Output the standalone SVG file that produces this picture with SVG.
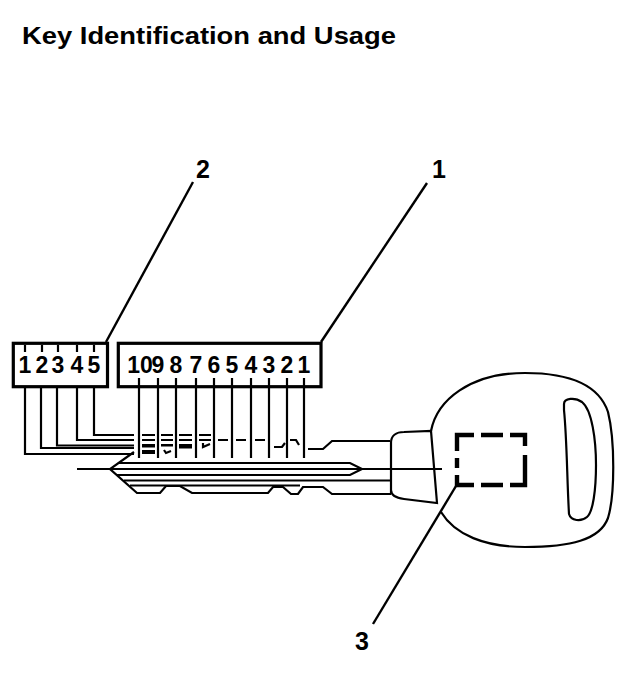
<svg xmlns="http://www.w3.org/2000/svg" width="640" height="692" viewBox="0 0 640 692">
<style>
.t{font-family:"Liberation Sans",Arial,sans-serif;font-weight:bold;fill:#000}
.ln{fill:none;stroke:#000;stroke-width:2.2;stroke-linejoin:miter;stroke-linecap:butt}
.th{fill:none;stroke:#000;stroke-width:3.2}
.ld{fill:none;stroke:#000;stroke-width:2.4}
.dg{font-size:23px;text-anchor:middle}
.cl{font-size:25px;text-anchor:middle}
</style>
<rect width="640" height="692" fill="#fff"/>
<text class="t" x="22" y="44" font-size="24" textLength="374" lengthAdjust="spacingAndGlyphs">Key Identification and Usage</text>

<g id="box-sidebar-code">
<rect class="th" x="13.3" y="343.3" width="94.2" height="43.4"/>
<text class="t dg" x="25" y="373">1</text>
<text class="t dg" x="42" y="373">2</text>
<text class="t dg" x="58" y="373">3</text>
<text class="t dg" x="77" y="373">4</text>
<text class="t dg" x="94" y="373">5</text>
</g>

<g id="box-cut-code">
<rect class="th" x="118.3" y="343.3" width="202.7" height="43.4"/>
<text class="t dg" x="140" y="373">10</text>
<text class="t dg" x="158" y="373">9</text>
<text class="t dg" x="176" y="373">8</text>
<text class="t dg" x="196" y="373">7</text>
<text class="t dg" x="214" y="373">6</text>
<text class="t dg" x="232" y="373">5</text>
<text class="t dg" x="251" y="373">4</text>
<text class="t dg" x="269" y="373">3</text>
<text class="t dg" x="287" y="373">2</text>
<text class="t dg" x="304" y="373">1</text>
</g>

<g id="key">
<path class="ln" d="M77 469 H442"/>
<path class="ln" d="M134 452 L110 469 L137 493 L160 493 L166 486 L180 486 L192 493 L268 493 L273 487 L283 487 L291 494 L298 494 L303 487 L323 487 L332 494 L391 494"/>
<path class="ln" d="M118 463 H350 L362 469 L350 475 H117" stroke-width="3"/>
<path class="ln" d="M124 480.5 H390" stroke-width="3"/>
<path class="ln" d="M130 485.5 H300" stroke-width="1.4"/>
<path class="ln" d="M308 449 H323 L332 441 H390"/>
<path class="ln" d="M391 494 L391 443 C391 436 396 432 404 432 L431 431 L437 503 L404 499 C396 498 391 496 391 490"/>
<path class="ln" d="M431 431 C437 400 470 373 525 373 C575 373 600 388 608 412 C615 440 615 495 608 518 C600 540 570 547 525 547 C485 547 455 535 441 512"/>
<path class="ln" d="M564 404 C564 398 575 397 582 402 C592 410 596 440 596 465 C596 490 593 512 587 517 C581 522 571 521 569 514 C567 480 567 440 564 410 Z"/>
</g>

<g id="transponder">
<path fill="none" stroke="#000" stroke-width="4.4" d="M457 451 V435 H474 M481 435 H503 M510 435 H525 V446 M525 455 V485 H510 M503 485 H481 M474 485 H457 V475 M457 458 V468"/>
</g>

<g id="connectors">
<path class="ln" d="M25 387 V454 H134"/>
<path class="ln" d="M41 387 V448 H134"/>
<path class="ln" d="M57 387 V445.5 H134" stroke-width="2.6"/>
<path class="ln" d="M77 387 V440 H134"/>
<path class="ln" d="M94 387 V435 H134"/>
<path class="ln" d="M25 345 V352 M42 345 V352 M58 345 V352 M77 345 V352 M94 345 V352"/>
<path class="ln" d="M139 378 V458 M158 378 V458 M176 378 V458 M196 378 V458 M214 378 V458 M232 378 V458 M251 378 V458 M269 378 V458 M287 378 V458 M304 378 V458"/>
<g fill="#000">
<rect x="142" y="434" width="13" height="2"/><rect x="142" y="439" width="13" height="2"/><rect x="142" y="444" width="13" height="3.5"/><rect x="142" y="450" width="13" height="4"/>
<rect x="161" y="434" width="12" height="2"/><rect x="161" y="439" width="12" height="2"/><rect x="161" y="444" width="12" height="2.5"/>
<rect x="179" y="434" width="13" height="2"/><rect x="179" y="439" width="13" height="2"/><rect x="179" y="444" width="13" height="4.5"/>
<rect x="199" y="434" width="12" height="2"/><rect x="199" y="439" width="12" height="2"/>
<rect x="218" y="439" width="10" height="2"/><rect x="236" y="439" width="10" height="2"/><rect x="255" y="439" width="10" height="2"/>
</g>
<path class="ln" d="M164 450 L166 453 L171 451"/>
<path class="ln" d="M203 443 V447 L210 444"/>
<path class="ln" d="M274 447 H282 L285 443"/>
<path class="ln" d="M290 440 H296 L299 445"/>
<path class="ld" d="M106 342 L193 182"/>
<path class="ld" d="M321 342 L427 183"/>
<path class="ld" d="M456 486 L373 624"/>
</g>

<g id="callouts">
<text class="t cl" x="203" y="178">2</text>
<text class="t cl" x="439" y="178">1</text>
<text class="t cl" x="362" y="650">3</text>
</g>
</svg>
